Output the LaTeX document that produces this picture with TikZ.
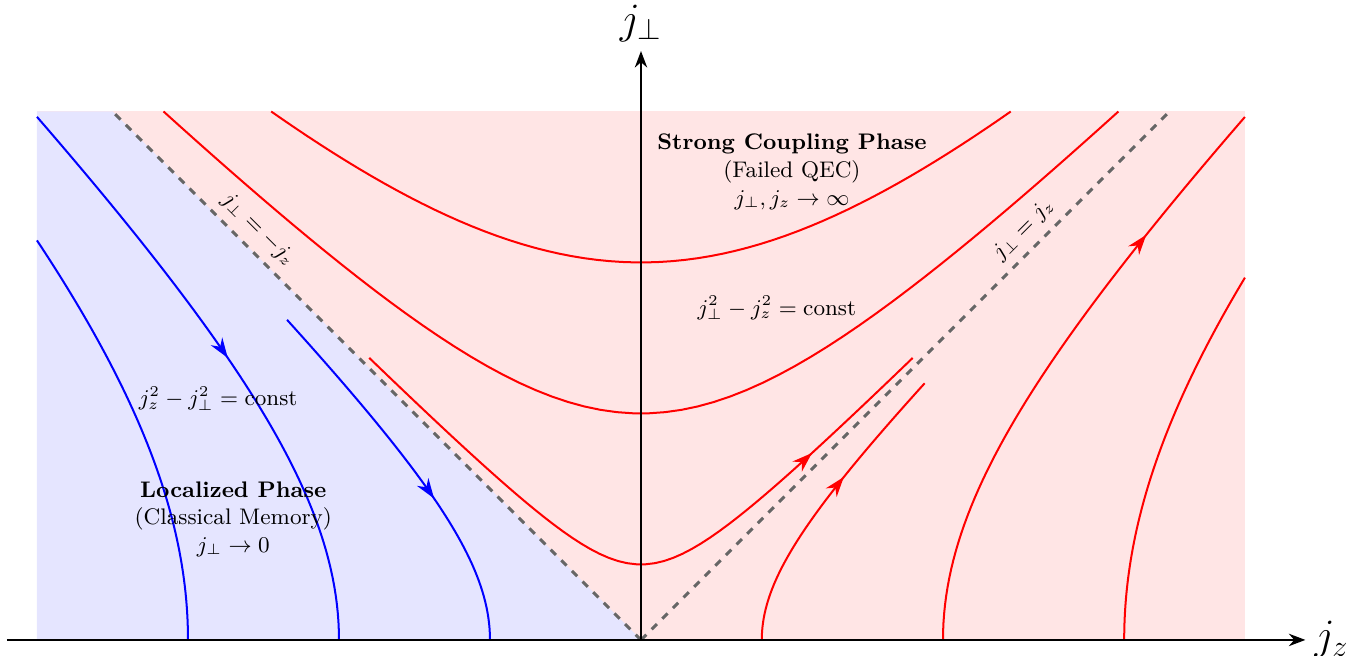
\documentclass[tikz,border=0pt]{standalone}
\usepackage{amsmath}
\usetikzlibrary{arrows.meta,decorations.markings}
\colorlet{localbg}{blue!10}
\colorlet{strongbg}{red!10}
\definecolor{sepline}{HTML}{666666}
\tikzset{
  flow/.style={thick, postaction={decorate},
    decoration={markings, mark=at position #1 with {\arrow{Stealth[length=8pt, width=5.5pt]}}}},
  sep/.style={sepline, very thick, dashed},
}

\begin{document}
\begin{tikzpicture}[x=2.12cm, y=2.12cm, font=\small, >=Stealth, samples=60]
  \useasboundingbox (-4.245,-0.106) rectangle (4.755,4.238);
  % phase regions
  \fill[strongbg] (-4,0) rectangle (4,3.5);
  \fill[localbg] (-4,0) -- (0,0) -- (-3.5,3.5) -- (-4,3.5) -- cycle;
  % separatrices
  \coordinate (origin) at (0,0);
  \coordinate (sepL) at (-3.5,3.5);
  \coordinate (sepR) at (3.5,3.5);
  \draw[sep] (origin) -- (sepL) node[pos=0.75, above, sloped, black] (sepLlabel) {$j_\perp = -j_z$};
  \draw[sep] (origin) -- (sepR) node[pos=0.75, above, sloped, black] (sepRlabel) {$j_\perp = j_z$};
  % strong coupling flow: j_perp^2 - j_z^2 = const
  \draw[red, flow=0.8, domain=-1.8:1.8] plot (\x, {sqrt(0.25+\x*\x)});
  \draw[red, thick, domain=-3.162:3.162] plot (\x, {sqrt(2.25+\x*\x)});
  \draw[red, thick, domain=-2.449:2.449] plot (\x, {sqrt(6.25+\x*\x)});
  % flow below the right separatrix
  \draw[red, flow=0.6, domain=0:1.7] plot ({sqrt(0.64+\x*\x)}, \x);
  \draw[red, flow=0.75, domain=0:3.464] plot ({sqrt(4+\x*\x)}, \x);
  \draw[red, thick, domain=0:2.4] plot ({sqrt(10.24+\x*\x)}, \x);
  % localized flow: j_z^2 - j_perp^2 = const
  \draw[blue, flow=0.6, domain=2.12:0] plot ({-sqrt(1+\x*\x)}, \x);
  \draw[blue, flow=0.5, domain=3.464:0] plot ({-sqrt(4+\x*\x)}, \x);
  \draw[blue, thick, domain=2.646:0] plot ({-sqrt(9+\x*\x)}, \x);
  % axes
  \coordinate (xstart) at (-4.2,0);
  \coordinate (xend) at (4.4,0);
  \coordinate (yend) at (0,3.9);
  \draw[->, thick] (xstart) -- (xend) node[right, font=\LARGE] (jzlabel) {$j_z$};
  \draw[->, thick] (origin) -- (yend) node[above, font=\LARGE] (jplabel) {$j_\perp$};
  % labels
  \node[align=center] (strong) at (1,3.1) {\textbf{Strong Coupling Phase}\\(Failed QEC)\\$j_\perp, j_z \to \infty$};
  \node (stronglaw) at (0.9,2.2) {$j_\perp^2 - j_z^2 = \text{const}$};
  \node (locallaw) at (-2.8,1.6) {$j_z^2 - j_\perp^2 = \text{const}$};
  \node[align=center] (localized) at (-2.7,0.8) {\textbf{Localized Phase}\\(Classical Memory)\\$j_\perp \to 0$};
\end{tikzpicture}
\end{document}
